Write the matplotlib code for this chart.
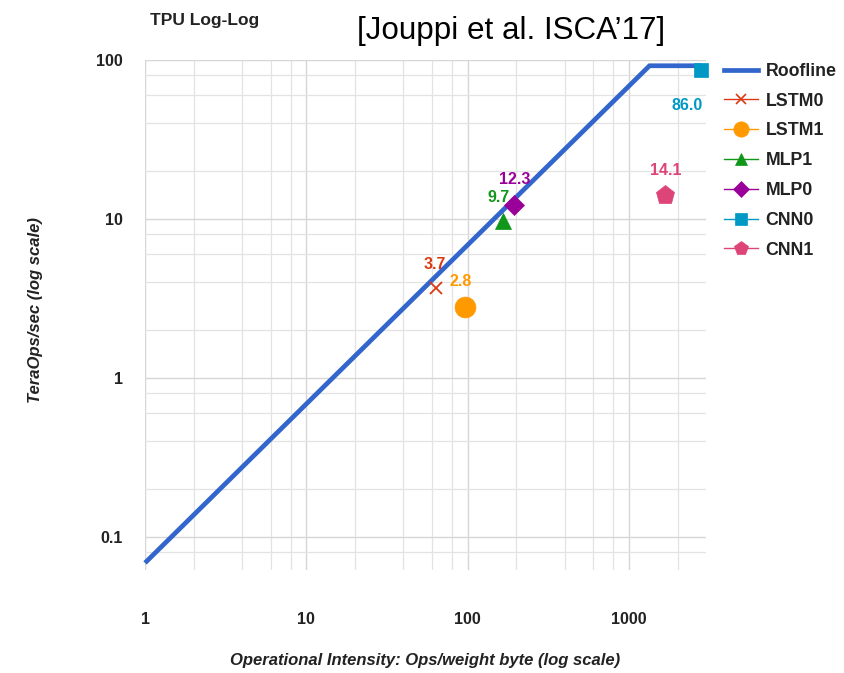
import matplotlib
matplotlib.use("Agg")
import matplotlib.pyplot as plt
from matplotlib.lines import Line2D
from matplotlib.ticker import LogLocator, NullFormatter, FixedLocator, FixedFormatter

plt.rcParams['font.family'] = ['Liberation Sans', 'DejaVu Sans']

# ---- data ----
roof_x = [1, 1340, 2800]
roof_y = [0.0687, 92, 92]

names = ["LSTM0", "LSTM1", "MLP1", "MLP0", "CNN0", "CNN1"]
intensity = [64, 96, 165, 195, 2800, 1680]
teraops = [3.7, 2.8, 9.7, 12.3, 86.0, 14.1]
value_labels = ["3.7", "2.8", "9.7", "12.3", "86.0", "14.1"]

colors = ["#dc3912", "#ff9900", "#109618", "#990099", "#0099c6", "#dd4477"]
markers = ["x", "o", "^", "D", "s", "p"]
plot_msize = [9, 15, 12, 10, 10, 14]
legend_msize = [7, 11, 9, 8, 8, 10]
# label offsets in points (dx, dy)
lab_off = [(-1, 17), (-3, 18), (-3, 17), (0, 18), (-10, -25), (0, 18)]

x_ticks = [1, 10, 100, 1000]
x_ticklabels = ["1", "10", "100", "1000"]
y_ticks = [0.1, 1, 10, 100]
y_ticklabels = ["0.1", "1", "10", "100"]

# ---- figure ----
W, H = 844, 673
fig = plt.figure(figsize=(W / 100, H / 100), dpi=100)
ax = fig.add_axes([145 / W, 1 - 570 / H, (706 - 145) / W, (570 - 60) / H])

ax.set_xscale("log")
ax.set_yscale("log")
ax.set_xlim(1, 3000)
ax.set_ylim(0.062, 100)

grid_c = "#e3e3e3"
ax.xaxis.set_major_locator(FixedLocator(x_ticks))
ax.xaxis.set_major_formatter(FixedFormatter(x_ticklabels))
ax.yaxis.set_major_locator(FixedLocator(y_ticks))
ax.yaxis.set_major_formatter(FixedFormatter(y_ticklabels))
ax.xaxis.set_minor_locator(LogLocator(base=10, subs=(2, 4, 6, 8)))
ax.yaxis.set_minor_locator(LogLocator(base=10, subs=(2, 4, 6, 8)))
ax.xaxis.set_minor_formatter(NullFormatter())
ax.yaxis.set_minor_formatter(NullFormatter())
ax.grid(True, which="major", color="#d6d6d6", lw=1.0)
ax.grid(True, which="minor", color=grid_c, lw=0.9)
ax.set_axisbelow(True)
for s in ax.spines.values():
    s.set_visible(False)
ax.tick_params(which="both", length=0)
ax.tick_params(axis="x", pad=30, labelsize=11.5, labelcolor="#222222")
ax.tick_params(axis="y", pad=16, labelsize=11.5, labelcolor="#222222")
for lbl in ax.get_xticklabels() + ax.get_yticklabels():
    lbl.set_fontweight("bold")

# roofline
ax.plot(roof_x, roof_y, color="#3366cc", lw=3.4, solid_capstyle="butt",
        solid_joinstyle="miter", zorder=3, clip_on=False)

# points
for i in range(len(names)):
    ax.plot(intensity[i], teraops[i], linestyle="none", marker=markers[i],
            color=colors[i], markersize=plot_msize[i],
            markeredgewidth=1.3 if markers[i] == "x" else 0.5, zorder=4,
            clip_on=False)
    dx, dy = lab_off[i]
    ax.annotate(value_labels[i], (intensity[i], teraops[i]),
                xytext=(dx, dy), textcoords="offset points",
                ha="center", va="center", color=colors[i],
                fontsize=11.5, fontweight="bold", zorder=5,
                annotation_clip=False)

# legend
handles = [Line2D([], [], color="#3366cc", lw=3.4)]
labels = ["Roofline"]
for i in range(len(names)):
    handles.append(Line2D([], [], color=colors[i], lw=1.0, marker=markers[i],
                          markersize=legend_msize[i],
                          markeredgewidth=1.2 if markers[i] == "x" else 0.5))
    labels.append(names[i])
leg = fig.legend(handles, labels, loc="upper left",
                 bbox_to_anchor=(715 / W, 1 - 54 / H),
                 frameon=False, borderpad=0, handlelength=1.9,
                 handletextpad=0.45, labelspacing=0.72,
                 prop={"weight": "bold", "size": 12.8})
for t in leg.get_texts():
    t.set_color("#222222")

# axis labels
ax.set_xlabel("Operational Intensity: Ops/weight byte (log scale)",
              fontsize=12, fontweight="bold", style="italic", color="#222222")
ax.xaxis.set_label_coords(0.5, -0.163)
ax.set_ylabel("TeraOps/sec (log scale)", fontsize=12, fontweight="bold",
              style="italic", color="#222222")
ax.yaxis.set_label_coords(-0.182, 0.51)

# titles
fig.text(150 / W, 1 - 20 / H, "TPU Log-Log", fontsize=12.5, fontweight="bold",
         ha="left", va="center", color="#222222")
fig.text(511 / W, 1 - 31 / H, "[Jouppi et al. ISCA\u201917]", fontsize=22.6,
         ha="center", va="center", color="#000000")

fig.savefig("out.png", dpi=100)
